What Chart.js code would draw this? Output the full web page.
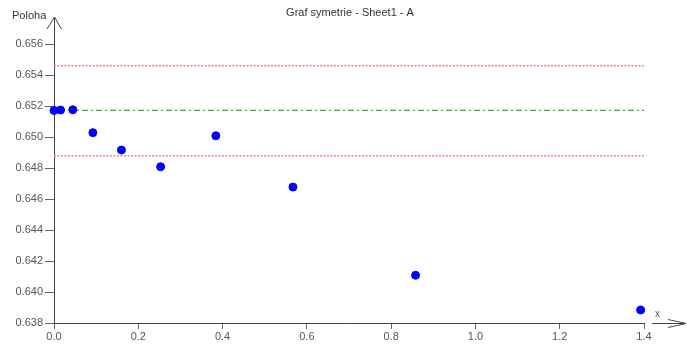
<!DOCTYPE html>
<html>
<head>
<meta charset="utf-8">
<script src="https://cdn.jsdelivr.net/npm/chart.js@4.4.1/dist/chart.umd.min.js"></script>
<style>
  body { margin: 0; background: #fff; }
</style>
</head>
<body>
<canvas id="chart" width="695" height="344"></canvas>
<script>
// data
var xValues = [0.0, 0.0155, 0.0447, 0.0923, 0.160, 0.253, 0.384, 0.567, 0.858, 1.392];
var yValues = [0.65171, 0.65174, 0.65176, 0.65028, 0.64916, 0.64808, 0.65008, 0.64677, 0.64108, 0.63884];
var lineX = [0, 1.4];
var upperLimit = 0.65460;
var centerLine = 0.65172;
var lowerLimit = 0.64879;

var points = xValues.map(function (x, i) { return { x: x, y: yValues[i] }; });
function hLine(v) { return lineX.map(function (x) { return { x: x, y: v }; }); }

var axisColor = '#444';
var tickColor = '#555';

var decorations = {
    id: 'decorations',
    afterDraw: function (chart) {
        var ctx = chart.ctx;
        var a = chart.chartArea;
        ctx.save();
        ctx.strokeStyle = axisColor;
        ctx.lineWidth = 1;
        // y axis extension + arrow
        ctx.beginPath();
        ctx.moveTo(a.left + 0.5, a.top);
        ctx.lineTo(a.left + 0.5, 18);
        ctx.moveTo(a.left - 7, 29);
        ctx.lineTo(a.left + 0.5, 17);
        ctx.lineTo(a.left + 7.5, 29);
        ctx.stroke();
        // x arrow
        ctx.beginPath();
        ctx.moveTo(a.right + 8, a.bottom + 0.5);
        ctx.lineTo(a.right + 42, a.bottom + 0.5);
        ctx.moveTo(a.right + 24, a.bottom - 3.5);
        ctx.lineTo(a.right + 42, a.bottom + 0.5);
        ctx.lineTo(a.right + 24, a.bottom + 4.5);
        ctx.stroke();

        ctx.fillStyle = '#333';
        ctx.font = '11px "Liberation Sans", Arial, sans-serif';
        ctx.textBaseline = 'middle';
        ctx.textAlign = 'center';
        ctx.fillText('Graf symetrie - Sheet1 - A', 350, 13);
        ctx.textAlign = 'left';
        ctx.fillText('Poloha', 12, 16);
        ctx.fillStyle = tickColor;
        ctx.font = '10px "Liberation Sans", Arial, sans-serif';
        ctx.fillText('x', 655, 314);
        ctx.restore();
    }
};

new Chart(document.getElementById('chart').getContext('2d'), {
    type: 'scatter',
    data: {
        datasets: [{
            label: 'Sheet1 - A',
            data: points,
            backgroundColor: '#0000ff',
            borderColor: '#0000ff',
            pointRadius: 4,
            borderWidth: 1,
            clip: false,
            order: 0
        }, {
            label: 'upper',
            data: hLine(upperLimit),
            showLine: true,
            pointRadius: 0,
            borderColor: '#ff7f7f',
            borderWidth: 1.5,
            borderDash: [2, 1.5],
            order: 1
        }, {
            label: 'center',
            data: hLine(centerLine),
            showLine: true,
            pointRadius: 0,
            borderColor: '#44aa44',
            borderWidth: 1.2,
            borderDash: [6, 3, 2, 3],
            order: 1
        }, {
            label: 'lower',
            data: hLine(lowerLimit),
            showLine: true,
            pointRadius: 0,
            borderColor: '#ff7f7f',
            borderWidth: 1.5,
            borderDash: [2, 1.5],
            order: 1
        }]
    },
    options: {
        responsive: false,
        animation: false,
        devicePixelRatio: 1,
        layout: {
            padding: { top: 44, right: 51, left: 0, bottom: 0 }
        },
        plugins: {
            legend: { display: false },
            tooltip: { enabled: false }
        },
        scales: {
            x: {
                type: 'linear',
                min: 0,
                max: 1.4,
                afterFit: function (scale) { scale.height = 21; },
                border: { color: axisColor },
                grid: {
                    drawOnChartArea: false,
                    tickLength: 6,
                    color: '#666'
                },
                ticks: {
                    stepSize: 0.2,
                    padding: 1,
                    color: tickColor,
                    font: { family: '"Liberation Sans", Arial, sans-serif', size: 11 },
                    callback: function (v) { return v.toFixed(1); }
                }
            },
            y: {
                min: 0.638,
                max: 0.656,
                afterFit: function (scale) { scale.width = 54; },
                border: { color: axisColor },
                grid: {
                    drawOnChartArea: false,
                    tickLength: 9,
                    color: '#666'
                },
                ticks: {
                    stepSize: 0.002,
                    padding: 2,
                    color: tickColor,
                    font: { family: '"Liberation Sans", Arial, sans-serif', size: 11 },
                    callback: function (v) { return v.toFixed(3); }
                }
            }
        }
    },
    plugins: [decorations]
});
</script>
</body>
</html>
